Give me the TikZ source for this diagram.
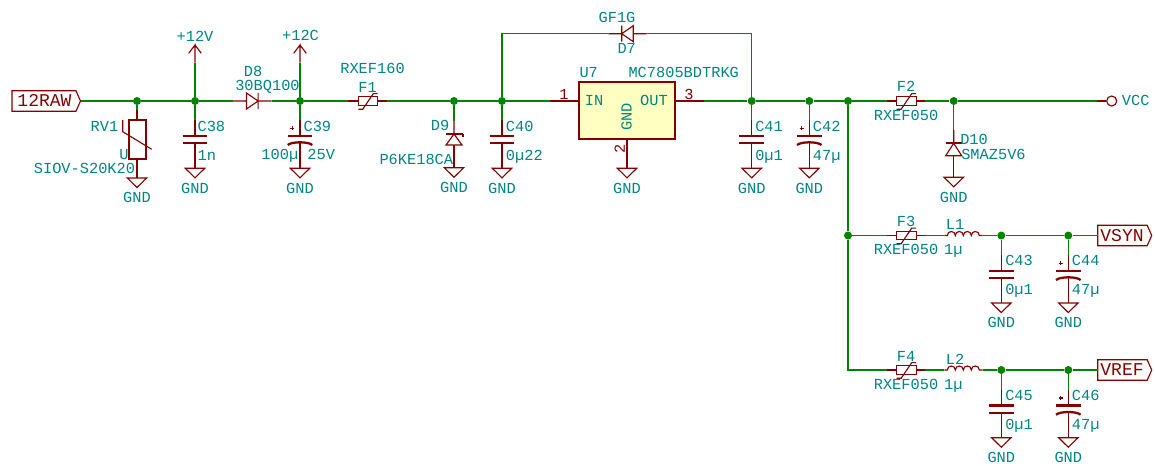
\documentclass[tikz,border=0pt]{standalone}
\usepackage{fontspec}
\setmainfont{Liberation Mono}
\definecolor{wiregreen}{RGB}{0,132,0}
\definecolor{symred}{RGB}{132,0,0}
\definecolor{fieldteal}{RGB}{0,132,132}
\definecolor{bodyyellow}{RGB}{255,255,194}
\tikzset{
  wire/.style={wiregreen,line width=0.85pt},
  sym/.style={symred,line width=0.85pt},
  plate/.style={symred,line width=1.7pt},
  dot/.style={circle,fill=wiregreen,inner sep=0pt,minimum size=6pt},
  lbl/.style={fieldteal,font=\fontsize{11.5}{11.5}\selectfont,inner sep=0pt,text height=7.4pt,text depth=0pt},
  net/.style={lbl,anchor=center},
  leftlbl/.style={lbl,anchor=west},
  pinno/.style={lbl,symred,anchor=center},
  portlbl/.style={symred,font=\fontsize{13.5}{13.5}\selectfont,inner sep=0pt,text height=8.8pt,text depth=0pt,anchor=center}
}
\def\dsym{\draw[sym]}
\def\dwire{\draw[wire]}
\def\dplate{\draw[plate]}
\def\drpiece{-- ++(13.5,0) ++(0,-8) -- ++(0,16) -- ++(11.6,-8) -- cycle ++(11.6,0) -- ++(0,16) ++(0,-8) -- ++(13.4,0)}
\def\dlpiece{-- ++(13.4,0) ++(0,-8) -- ++(0,16) ++(0,-8) -- ++(11.6,-8) -- ++(0,16) -- cycle ++(11.6,0) -- ++(13.4,0)}
\def\fusepiece{-- ++(10,0) ++(0,-4.2) -- ++(19.4,0) -- ++(0,8.4) -- ++(-19.4,0) -- cycle ++(19.4,4.2) -- ++(9.3,0)}
\def\slashpiece{++(10,8.3) -- ++(4.4,0) -- ++(10.6,-15.7) -- ++(4.4,0)}
\def\coilpiece{-- ++(3,0)
  .. controls +(0,-5.3) and +(0,-5.3) .. ++(8,0)
  .. controls +(0,-5.3) and +(0,-5.3) .. ++(8,0)
  .. controls +(0,-5.3) and +(0,-5.3) .. ++(8,0)
  .. controls +(0,-5.3) and +(0,-5.3) .. ++(8,0) -- ++(3.4,0)}
\newcommand{\portpiece}[1]{-- ++(#1,0) -- ++(4.5,10.2) -- ++(-4.5,10.2) -- ++(-#1,0) -- cycle}
\newcommand{\gndat}[3]{
  \dsym (#2,#3) -- ++(-9.7,0) -- ++(9.7,9.5) -- ++(9.7,-9.5) -- cycle;
  \node[net] (#1) at (#2,#3+20) {GND};
}
\newcommand{\capat}[3]{
  \coordinate (#1) at (#2,#3);
  \dsym (#1) -- ++(0,15.7) ++(0,7.6) -- ++(0,25);
  \dplate (#1) ++(-12.3,15.7) -- ++(24.6,0) ++(-24.6,7.6) -- ++(24.6,0);
}
\newcommand{\pcapat}[3]{
  \coordinate (#1) at (#2,#3);
  \dsym (#1) -- ++(0,15.7) ++(0,6) -- ++(0,26.6);
  \dplate (#1) ++(-12.3,15.7) -- ++(24.6,0);
  \dplate (#1) ++(-12.3,25) .. controls +(4,-3.6) and +(-4,-3.6) .. ++(24.6,0);
  \dsym (#1) ++(-9.8,8.3) -- ++(4,0) ++(-2,-2) -- ++(0,4);
}

\begin{document}
\begin{tikzpicture}[x=0.75pt,y=-0.75pt]
  \useasboundingbox (0,0) rectangle (1155,465);
  % junctions
  \node[dot] (j137) at (137,101) {};
  \node[dot] (j195) at (195,101) {};
  \node[dot] (j300) at (300,101) {};
  \node[dot] (j454) at (454,101) {};
  \node[dot] (j502) at (502,101) {};
  \node[dot] (j751) at (751.7,101) {};
  \node[dot] (j809) at (809.3,101) {};
  \node[dot] (j848) at (848,101) {};
  \node[dot] (j953) at (953.7,101) {};
  \node[dot] (k848) at (848,235.5) {};
  \node[dot] (k1001) at (1001.3,235.5) {};
  \node[dot] (k1068) at (1068.3,235.5) {};
  \node[dot] (m1001) at (1001.3,370) {};
  \node[dot] (m1068) at (1068.3,370) {};
  \coordinate (m848) at (848,370);

  % input port and varistor
  \coordinate (rawtip) at (80.5,101);
  \dsym (12,90.8) \portpiece{64};
  \node[portlbl] (raw) at (44.5,101) {12RAW};
  \coordinate (rv1a) at (137,110);
  \dsym (rv1a) -- (137,120);
  \dsym (137,158.7) -- (137,178);
  \draw[plate] (129.3,120) rectangle (145.7,158.7);
  \dsym (122.7,120) -- (122.7,131.7) -- (151.7,149.3);
  \node[net] (rvu) at (124,155) {U};
  \node[net] (rv1) at (104.5,126.3) {RV1};
  \node[net] (rv1val) at (84.5,169) {SIOV-S20K20};
  \gndat{gndrv}{137}{178}

  % +12V rail and C38
  \coordinate (p12v) at (195,62.7);
  \dsym (p12v) -- (195,45) -- ++(-6.3,8.3) (195,45) -- ++(6.3,8.3);
  \node[net] (p12vlbl) at (195,36.7) {+12V};
  \capat{c38a}{195}{120}
  \node[leftlbl] (c38) at (197.3,126.7) {C38};
  \node[leftlbl] (c38val) at (197.3,156) {1n};
  \gndat{gnd38}{195}{168.3}

  % D8, +12C and C39
  \coordinate (d8a) at (233,101);
  \coordinate (d8k) at (271.5,101);
  \dsym (d8a) \drpiece;
  \node[net] (d8) at (253,71.7) {D8};
  \node[net] (d8val) at (267.5,85.7) {30BQ100};
  \coordinate (p12c) at (300,62.7);
  \dsym (p12c) -- (300,45) -- ++(-6.3,8.3) (300,45) -- ++(6.3,8.3);
  \node[net] (p12clbl) at (300.5,35.5) {+12C};
  \pcapat{c39a}{300}{120}
  \node[leftlbl] (c39) at (303.3,126.7) {C39};
  \node[net] (c39val) at (298.3,154.5) {100µ 25V};
  \gndat{gnd39}{300}{168.3}

  % F1, D9, C40
  \coordinate (f1a) at (348.3,101);
  \coordinate (f1b) at (387,101);
  \dsym (f1a) \fusepiece;
  \dsym (f1a) \slashpiece;
  \node[net] (f1) at (367.5,87.3) {F1};
  \node[net] (f1val) at (372.5,68.3) {RXEF160};
  \coordinate (d9a) at (454,120.7);
  \dsym (d9a) -- (454,134) -- ++(-8,11) -- ++(16,0) -- (454,134);
  \dsym (454,145) -- (454,167.7);
  \dplate (446,134) -- (463,134);
  \dsym (463,134) -- (463,137);
  \node[net] (d9) at (440,126) {D9};
  \node[net] (d9val) at (416.3,159.3) {P6KE18CA};
  \gndat{gndd9}{454}{167.7}
  \capat{c40a}{502}{120}
  \node[leftlbl] (c40) at (505.7,126.7) {C40};
  \node[leftlbl] (c40val) at (505.7,155.7) {0µ22};
  \gndat{gnd40}{502}{168.3}

  % bypass diode D7
  \coordinate (d7a) at (608.3,33.7);
  \coordinate (d7b) at (646.7,33.7);
  \coordinate (topl) at (502,33.7);
  \coordinate (topr) at (751.7,33.7);
  \dsym (d7a) \dlpiece;
  \node[net] (gf1g) at (617,17.7) {GF1G};
  \node[net] (d7) at (626.7,49) {D7};

  % regulator U7
  \node[draw=symred,fill=bodyyellow,line width=1.5pt,minimum width=72pt,minimum height=42.75pt,inner sep=0pt] (u7) at (627,110.8) {};
  \coordinate (u7a) at (550,101);
  \coordinate (u7b) at (704,101);
  \dsym (u7a) -- (u7.west |- u7a);
  \dsym (u7.east |- u7b) -- (u7b);
  \dsym (u7.south) -- (627,168.3);
  \node[pinno] (pin1) at (564,94.5) {1};
  \node[pinno] (pin3) at (689,94.5) {3};
  \node[pinno,rotate=90] (pin2) at (620,149.3) {2};
  \node[net] (u7in) at (594,101) {IN};
  \node[net] (u7out) at (654,101) {OUT};
  \node[net,rotate=90] (u7gnd) at (626.7,116.7) {GND};
  \node[net] (u7ref) at (588.7,72.7) {U7};
  \node[net] (u7val) at (683.7,72.7) {MC7805BDTRKG};
  \gndat{gndu7}{627}{168.3}

  % output caps
  \capat{c41a}{751.7}{120}
  \node[leftlbl] (c41) at (755,127) {C41};
  \node[leftlbl] (c41val) at (755,156) {0µ1};
  \gndat{gnd41}{751.7}{168.3}
  \pcapat{c42a}{809.3}{120}
  \node[leftlbl] (c42) at (812.7,127) {C42};
  \node[leftlbl] (c42val) at (812.7,156) {47µ};
  \gndat{gnd42}{809.3}{168.3}

  % F2, D10, VCC
  \coordinate (f2a) at (886.7,101);
  \coordinate (f2b) at (925.4,101);
  \dsym (f2a) \fusepiece;
  \dsym (f2a) \slashpiece;
  \node[net] (f2) at (906,86.7) {F2};
  \node[net] (f2val) at (906,115.7) {RXEF050};
  \coordinate (d10a) at (953.7,130);
  \dsym (d10a) -- (953.7,143.3) -- ++(-8,12.4) -- ++(16,0) -- (953.7,143.3);
  \dsym (953.7,155.7) -- (953.7,177.3);
  \dplate (945.7,143.3) -- (961.7,143.3);
  \node[leftlbl] (d10) at (960,140) {D10};
  \node[leftlbl] (d10val) at (961,155) {SMAZ5V6};
  \gndat{gndd10}{953.7}{177.3}
  \coordinate (vcca) at (1097.3,101);
  \node[circle,draw=symred,line width=0.85pt,minimum size=7.5pt,inner sep=0pt] (vccring) at (1111.7,101) {};
  \dsym (vcca) -- (vccring);
  \node[net] (vcc) at (1135.7,101) {VCC};

  % VSYN branch
  \coordinate (f3a) at (886.7,235.5);
  \coordinate (f3b) at (925.4,235.5);
  \dsym (f3a) \fusepiece;
  \dsym (f3a) \slashpiece;
  \node[net] (f3) at (906,221.7) {F3};
  \node[net] (f3val) at (906,250) {RXEF050};
  \coordinate (l1a) at (944.3,235.5);
  \coordinate (l1b) at (982.7,235.5);
  \dsym (l1a) \coilpiece;
  \node[net] (l1) at (955,225) {L1};
  \node[net] (l1val) at (953.3,250) {1µ};
  \capat{c43a}{1001.3}{255}
  \node[leftlbl] (c43) at (1005,261) {C43};
  \node[leftlbl] (c43val) at (1005,290) {0µ1};
  \gndat{gnd43}{1001.3}{303}
  \pcapat{c44a}{1068.3}{255}
  \node[leftlbl] (c44) at (1071.7,261) {C44};
  \node[leftlbl] (c44val) at (1071.7,290) {47µ};
  \gndat{gnd44}{1068.3}{303}
  \coordinate (vsyntail) at (1097.7,235.5);
  \dsym (vsyntail) ++(0,-10.2) \portpiece{49.5};
  \node[portlbl] (vsyn) at (1122,235.5) {VSYN};

  % VREF branch
  \coordinate (f4a) at (886.7,370);
  \coordinate (f4b) at (925.4,370);
  \dsym (f4a) \fusepiece;
  \dsym (f4a) \slashpiece;
  \node[net] (f4) at (906,356.4) {F4};
  \node[net] (f4val) at (906,384.7) {RXEF050};
  \coordinate (l2a) at (944.3,370);
  \coordinate (l2b) at (982.7,370);
  \dsym (l2a) \coilpiece;
  \node[net] (l2) at (955,359.7) {L2};
  \node[net] (l2val) at (953.3,384.7) {1µ};
  \capat{c45a}{1001.3}{389.7}
  \node[leftlbl] (c45) at (1005,395.7) {C45};
  \node[leftlbl] (c45val) at (1005,424.7) {0µ1};
  \gndat{gnd45}{1001.3}{437.7}
  \pcapat{c46a}{1068.3}{389.7}
  \node[leftlbl] (c46) at (1071.7,395.7) {C46};
  \node[leftlbl] (c46val) at (1071.7,424.7) {47µ};
  \gndat{gnd46}{1068.3}{437.7}
  \coordinate (vreftail) at (1097.7,370);
  \dsym (vreftail) ++(0,-10.2) \portpiece{49.5};
  \node[portlbl] (vref) at (1122,370) {VREF};

  % wires
  \dwire (rawtip) -- (j137) -- (j195) -- (d8a);
  \dwire (d8k) -- (j300) -- (f1a);
  \dwire (f1b) -- (j454) -- (j502) -- (u7a);
  \dwire (u7b) -- (j751) -- (j809) -- (j848) -- (f2a);
  \dwire (f2b) -- (j953) -- (vcca);
  \dwire (j137) -- (rv1a);
  \dwire (j195) -- (p12v);
  \dwire (j195) -- (c38a);
  \dwire (j300) -- (p12c);
  \dwire (j300) -- (c39a);
  \dwire (j454) -- (d9a);
  \dwire (j502) -- (c40a);
  \dwire (j502) -- (topl) -- (d7a);
  \dwire (d7b) -- (topr) -- (j751);
  \dwire (j751) -- (c41a);
  \dwire (j809) -- (c42a);
  \dwire (j953) -- (d10a);
  \dwire (j848) -- (k848) -- (m848) -- (f4a);
  \dwire (k848) -- (f3a);
  \dwire (f3b) -- (l1a);
  \dwire (l1b) -- (k1001) -- (k1068) -- (vsyntail);
  \dwire (k1001) -- (c43a);
  \dwire (k1068) -- (c44a);
  \dwire (f4b) -- (l2a);
  \dwire (l2b) -- (m1001) -- (m1068) -- (vreftail);
  \dwire (m1001) -- (c45a);
  \dwire (m1068) -- (c46a);
\end{tikzpicture}
\end{document}
